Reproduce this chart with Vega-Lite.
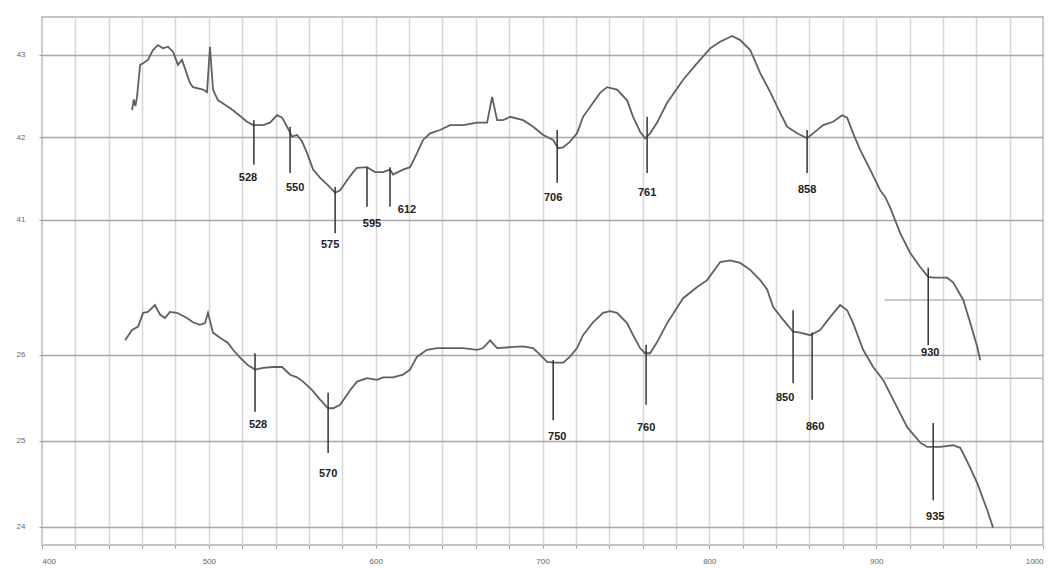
{
  "$schema": "https://vega.github.io/schema/vega-lite/v6.json",
  "width": 1001,
  "height": 528,
  "autosize": {"type": "none"},
  "padding": {"left": 42, "top": 17, "right": 17, "bottom": 23},
  "background": "white",
  "config": {
    "view": {"stroke": "#b0b0b0", "strokeWidth": 1.5},
    "axis": {"labelFont": "Liberation Sans", "labelColor": "#666", "labelFontSize": 8, "tickColor": "#999", "domain": false, "title": null, "labelOverlap": false}
  },
  "datasets": {
    "top": [
      {"nm":454,"v":42.33},{"nm":455,"v":42.46},{"nm":456,"v":42.38},{"nm":457,"v":42.5},{"nm":458.8,"v":42.88},{"nm":460.6,"v":42.9},{"nm":463.5,"v":42.94},{"nm":466.5,"v":43.06},{"nm":469.5,"v":43.12},{"nm":472.5,"v":43.08},{"nm":475.5,"v":43.1},{"nm":478.5,"v":43.04},{"nm":481.5,"v":42.88},{"nm":483.9,"v":42.94},{"nm":488.7,"v":42.66},{"nm":490.5,"v":42.61},{"nm":496.5,"v":42.58},{"nm":498.9,"v":42.55},{"nm":500.7,"v":43.1},{"nm":502.5,"v":42.58},{"nm":505.5,"v":42.45},{"nm":507.9,"v":42.42},{"nm":514.5,"v":42.33},{"nm":522.9,"v":42.19},{"nm":526.5,"v":42.15},{"nm":529.5,"v":42.15},{"nm":532.5,"v":42.15},{"nm":536.7,"v":42.18},{"nm":540.9,"v":42.27},{"nm":543.9,"v":42.24},{"nm":546.9,"v":42.13},{"nm":549.9,"v":42.01},{"nm":552.9,"v":42.03},{"nm":555.9,"v":41.95},{"nm":558.9,"v":41.81},{"nm":562.5,"v":41.61},{"nm":566.7,"v":41.51},{"nm":571.5,"v":41.42},{"nm":575.7,"v":41.33},{"nm":578.7,"v":41.36},{"nm":582.9,"v":41.48},{"nm":586.5,"v":41.58},{"nm":588.8,"v":41.63},{"nm":594.8,"v":41.64},{"nm":599.6,"v":41.58},{"nm":604.4,"v":41.58},{"nm":608.6,"v":41.61},{"nm":610.4,"v":41.55},{"nm":616.4,"v":41.61},{"nm":620.6,"v":41.64},{"nm":624.8,"v":41.81},{"nm":628.4,"v":41.97},{"nm":632.6,"v":42.05},{"nm":638.6,"v":42.09},{"nm":644.6,"v":42.15},{"nm":652.4,"v":42.15},{"nm":660.8,"v":42.18},{"nm":666.8,"v":42.18},{"nm":669.8,"v":42.49},{"nm":672.8,"v":42.21},{"nm":676.4,"v":42.21},{"nm":680.6,"v":42.25},{"nm":688.4,"v":42.21},{"nm":694.4,"v":42.13},{"nm":700.4,"v":42.03},{"nm":706.4,"v":41.97},{"nm":709.4,"v":41.87},{"nm":712.4,"v":41.88},{"nm":716.5,"v":41.95},{"nm":720.7,"v":42.05},{"nm":724.3,"v":42.25},{"nm":728.5,"v":42.37},{"nm":734.5,"v":42.54},{"nm":738.7,"v":42.61},{"nm":744.7,"v":42.58},{"nm":750.7,"v":42.45},{"nm":754.3,"v":42.25},{"nm":758.5,"v":42.07},{"nm":761.5,"v":41.99},{"nm":764.5,"v":42.05},{"nm":768.7,"v":42.18},{"nm":774.7,"v":42.42},{"nm":784.3,"v":42.7},{"nm":792.7,"v":42.9},{"nm":800.5,"v":43.08},{"nm":806.5,"v":43.16},{"nm":813.7,"v":43.23},{"nm":818.5,"v":43.18},{"nm":824.5,"v":43.06},{"nm":830.5,"v":42.78},{"nm":836.5,"v":42.55},{"nm":842.4,"v":42.3},{"nm":846.6,"v":42.13},{"nm":852.6,"v":42.05},{"nm":858.6,"v":41.99},{"nm":862.2,"v":42.05},{"nm":868.2,"v":42.15},{"nm":874.2,"v":42.19},{"nm":879.6,"v":42.27},{"nm":882.6,"v":42.24},{"nm":886.2,"v":42.05},{"nm":890.4,"v":41.85},{"nm":896.4,"v":41.61},{"nm":902.4,"v":41.36},{"nm":905.4,"v":41.28},{"nm":908.4,"v":41.15},{"nm":914.4,"v":40.84},{"nm":920.4,"v":40.6},{"nm":926.4,"v":40.43},{"nm":931.2,"v":40.31},{"nm":934.2,"v":40.3},{"nm":942.6,"v":40.3},{"nm":946.2,"v":40.24},{"nm":952.2,"v":40.03},{"nm":956.4,"v":39.75},{"nm":960.6,"v":39.46},{"nm":962.4,"v":39.3}
    ],
    "bottom": [
      {"nm":449.8,"v":26.17},{"nm":454,"v":26.29},{"nm":457.6,"v":26.33},{"nm":460.6,"v":26.49},{"nm":463.5,"v":26.5},{"nm":467.7,"v":26.58},{"nm":470.7,"v":26.47},{"nm":473.7,"v":26.43},{"nm":476.7,"v":26.5},{"nm":480.9,"v":26.49},{"nm":486.9,"v":26.43},{"nm":490.5,"v":26.38},{"nm":494.7,"v":26.35},{"nm":497.7,"v":26.37},{"nm":499.5,"v":26.49},{"nm":502.5,"v":26.26},{"nm":506.7,"v":26.2},{"nm":511.5,"v":26.14},{"nm":514.5,"v":26.06},{"nm":518.7,"v":25.97},{"nm":523.5,"v":25.88},{"nm":527.7,"v":25.83},{"nm":532.5,"v":25.85},{"nm":538.5,"v":25.86},{"nm":543.9,"v":25.86},{"nm":548.7,"v":25.77},{"nm":552.9,"v":25.74},{"nm":556.5,"v":25.69},{"nm":561.9,"v":25.59},{"nm":566.7,"v":25.48},{"nm":571.5,"v":25.38},{"nm":574.5,"v":25.38},{"nm":578.7,"v":25.42},{"nm":584.7,"v":25.59},{"nm":588.8,"v":25.69},{"nm":594.8,"v":25.73},{"nm":600.8,"v":25.71},{"nm":604.4,"v":25.74},{"nm":610.4,"v":25.74},{"nm":616.4,"v":25.77},{"nm":620.6,"v":25.83},{"nm":624.8,"v":25.98},{"nm":630.8,"v":26.06},{"nm":636.8,"v":26.08},{"nm":644.6,"v":26.08},{"nm":652.4,"v":26.08},{"nm":660.8,"v":26.06},{"nm":664.4,"v":26.08},{"nm":668.6,"v":26.17},{"nm":672.8,"v":26.08},{"nm":680.6,"v":26.09},{"nm":688.4,"v":26.1},{"nm":694.4,"v":26.08},{"nm":698.6,"v":26.0},{"nm":702.8,"v":25.92},{"nm":706.4,"v":25.91},{"nm":712.4,"v":25.91},{"nm":716.5,"v":25.98},{"nm":720.7,"v":26.08},{"nm":724.3,"v":26.23},{"nm":730.3,"v":26.38},{"nm":736.3,"v":26.49},{"nm":740.5,"v":26.51},{"nm":744.7,"v":26.49},{"nm":750.7,"v":26.37},{"nm":754.3,"v":26.23},{"nm":758.5,"v":26.08},{"nm":761.5,"v":26.02},{"nm":764.5,"v":26.02},{"nm":768.7,"v":26.15},{"nm":774.7,"v":26.37},{"nm":784.3,"v":26.66},{"nm":792.7,"v":26.79},{"nm":798.7,"v":26.87},{"nm":806.5,"v":27.08},{"nm":812.5,"v":27.1},{"nm":818.5,"v":27.07},{"nm":824.5,"v":26.99},{"nm":830.5,"v":26.87},{"nm":834.7,"v":26.76},{"nm":838.2,"v":26.56},{"nm":844.2,"v":26.41},{"nm":850.2,"v":26.27},{"nm":854.4,"v":26.26},{"nm":860.4,"v":26.23},{"nm":866.4,"v":26.29},{"nm":872.4,"v":26.44},{"nm":878.4,"v":26.58},{"nm":882.6,"v":26.52},{"nm":886.2,"v":26.37},{"nm":892.2,"v":26.06},{"nm":898.2,"v":25.86},{"nm":904.2,"v":25.71},{"nm":910.2,"v":25.48},{"nm":918.6,"v":25.16},{"nm":926.4,"v":24.98},{"nm":930.6,"v":24.93},{"nm":938.4,"v":24.93},{"nm":946.2,"v":24.95},{"nm":950.4,"v":24.92},{"nm":954.6,"v":24.76},{"nm":960.6,"v":24.51},{"nm":966.5,"v":24.2},{"nm":970.1,"v":23.99}
    ],
    "topMarks": [
      {"nm":527,"y1":42.21,"y2":41.67,"lx":523.5,"ly":41.51,"label":"528"},
      {"nm":548.7,"y1":42.13,"y2":41.57,"lx":551.7,"ly":41.39,"label":"550"},
      {"nm":575.7,"y1":41.4,"y2":40.84,"lx":572.7,"ly":40.7,"label":"575"},
      {"nm":594.8,"y1":41.64,"y2":41.16,"lx":597.8,"ly":40.95,"label":"595"},
      {"nm":608.6,"y1":41.64,"y2":41.16,"lx":618.8,"ly":41.12,"label":"612"},
      {"nm":708.8,"y1":42.09,"y2":41.45,"lx":706.4,"ly":41.27,"label":"706"},
      {"nm":762.7,"y1":42.25,"y2":41.57,"lx":762.7,"ly":41.33,"label":"761"},
      {"nm":858.6,"y1":42.09,"y2":41.57,"lx":858.6,"ly":41.36,"label":"858"},
      {"nm":931.2,"y1":40.42,"y2":39.48,"lx":932.4,"ly":39.39,"label":"930"}
    ],
    "bottomMarks": [
      {"nm":527.7,"y1":26.02,"y2":25.34,"lx":529.5,"ly":25.19,"label":"528"},
      {"nm":571.5,"y1":25.56,"y2":24.86,"lx":571.5,"ly":24.62,"label":"570"},
      {"nm":706.4,"y1":25.94,"y2":25.24,"lx":708.8,"ly":25.05,"label":"750"},
      {"nm":762.1,"y1":26.12,"y2":25.42,"lx":762.1,"ly":25.15,"label":"760"},
      {"nm":850.2,"y1":26.52,"y2":25.67,"lx":845.4,"ly":25.5,"label":"850"},
      {"nm":861.6,"y1":26.26,"y2":25.48,"lx":863.4,"ly":25.16,"label":"860"},
      {"nm":934.2,"y1":25.21,"y2":24.31,"lx":935.4,"ly":24.12,"label":"935"}
    ],
    "box": [
      {"x1":905,"x2":1000,"y":40.03},
      {"x1":905,"x2":1000,"y":39.08}
    ]
  },
  "layer": [
    {
      "layer": [
        {
          "data": {"name": "box"},
          "mark": {"type": "rule", "color": "#b8b8b8", "strokeWidth": 1.5},
          "encoding": {
            "x": {"field": "x1", "type": "quantitative", "scale": {"domain": [400, 1000], "nice": false, "zero": false},
              "axis": {"values": [400,420,440,460,480,500,520,540,560,580,600,620,640,660,680,700,720,740,760,780,800,820,840,860,880,900,920,940,960,980,1000], "grid": true, "gridColor": "#d6d6d6", "gridWidth": 1.5, "labelExpr": "datum.value % 100 === 0 ? datum.label : ''", "labelOverlap": false, "tickSize": 3, "labelPadding": 9, "format": "d"}},
            "x2": {"field": "x2"},
            "y": {"field": "y", "type": "quantitative", "scale": {"domain": [37.06, 43.46], "nice": false, "zero": false},
              "axis": {"orient": "left", "offset": 0, "values": [41, 42, 43], "format": "d", "grid": true, "gridColor": "#a8a8a8", "gridWidth": 1.5, "tickSize": 3, "labelPadding": 14}}
          }
        },
        {
          "data": {"name": "top"},
          "mark": {"type": "line", "color": "#606060", "strokeWidth": 1.8, "interpolate": "linear"},
          "encoding": {
            "x": {"field": "nm", "type": "quantitative", "scale": {"domain": [400, 1000], "nice": false, "zero": false},
              "axis": {"values": [400,420,440,460,480,500,520,540,560,580,600,620,640,660,680,700,720,740,760,780,800,820,840,860,880,900,920,940,960,980,1000], "grid": true, "gridColor": "#d6d6d6", "gridWidth": 1.5, "labelExpr": "datum.value % 100 === 0 ? datum.label : ''", "labelOverlap": false, "tickSize": 3, "labelPadding": 9, "format": "d"}},
            "y": {"field": "v", "type": "quantitative", "scale": {"domain": [37.06, 43.46], "nice": false, "zero": false},
              "axis": {"orient": "left", "offset": 0, "values": [41, 42, 43], "format": "d", "grid": true, "gridColor": "#a8a8a8", "gridWidth": 1.5, "tickSize": 3, "labelPadding": 14}}
          }
        },
        {
          "data": {"name": "topMarks"},
          "mark": {"type": "rule", "color": "#333", "strokeWidth": 1.5},
          "encoding": {
            "x": {"field": "nm", "type": "quantitative", "scale": {"domain": [400, 1000], "nice": false, "zero": false},
              "axis": {"values": [400,420,440,460,480,500,520,540,560,580,600,620,640,660,680,700,720,740,760,780,800,820,840,860,880,900,920,940,960,980,1000], "grid": true, "gridColor": "#d6d6d6", "gridWidth": 1.5, "labelExpr": "datum.value % 100 === 0 ? datum.label : ''", "labelOverlap": false, "tickSize": 3, "labelPadding": 9, "format": "d"}},
            "y": {"field": "y1", "type": "quantitative", "scale": {"domain": [37.06, 43.46], "nice": false, "zero": false},
              "axis": {"orient": "left", "offset": 0, "values": [41, 42, 43], "format": "d", "grid": true, "gridColor": "#a8a8a8", "gridWidth": 1.5, "tickSize": 3, "labelPadding": 14}},
            "y2": {"field": "y2"}
          }
        },
        {
          "data": {"name": "topMarks"},
          "mark": {"type": "text", "font": "Liberation Sans", "fontSize": 11, "fontWeight": "bold", "color": "#222", "baseline": "middle", "align": "center"},
          "encoding": {
            "x": {"field": "lx", "type": "quantitative", "scale": {"domain": [400, 1000], "nice": false, "zero": false},
              "axis": {"values": [400,420,440,460,480,500,520,540,560,580,600,620,640,660,680,700,720,740,760,780,800,820,840,860,880,900,920,940,960,980,1000], "grid": true, "gridColor": "#d6d6d6", "gridWidth": 1.5, "labelExpr": "datum.value % 100 === 0 ? datum.label : ''", "labelOverlap": false, "tickSize": 3, "labelPadding": 9, "format": "d"}},
            "y": {"field": "ly", "type": "quantitative", "scale": {"domain": [37.06, 43.46], "nice": false, "zero": false},
              "axis": {"orient": "left", "offset": 0, "values": [41, 42, 43], "format": "d", "grid": true, "gridColor": "#a8a8a8", "gridWidth": 1.5, "tickSize": 3, "labelPadding": 14}},
            "text": {"field": "label"}
          }
        }
      ]
    },
    {
      "layer": [
        {
          "data": {"name": "bottom"},
          "mark": {"type": "line", "color": "#606060", "strokeWidth": 1.8, "interpolate": "linear"},
          "encoding": {
            "x": {"field": "nm", "type": "quantitative", "scale": {"domain": [400, 1000], "nice": false, "zero": false},
              "axis": {"values": [400,420,440,460,480,500,520,540,560,580,600,620,640,660,680,700,720,740,760,780,800,820,840,860,880,900,920,940,960,980,1000], "grid": true, "gridColor": "#d6d6d6", "gridWidth": 1.5, "labelExpr": "datum.value % 100 === 0 ? datum.label : ''", "labelOverlap": false, "tickSize": 3, "labelPadding": 9, "format": "d"}},
            "y": {"field": "v", "type": "quantitative", "scale": {"domain": [23.79, 29.93], "nice": false, "zero": false},
              "axis": {"orient": "left", "offset": 0, "values": [24, 25, 26], "format": "d", "grid": true, "gridColor": "#a8a8a8", "gridWidth": 1.5, "tickSize": 3, "labelPadding": 14}}
          }
        },
        {
          "data": {"name": "bottomMarks"},
          "mark": {"type": "rule", "color": "#333", "strokeWidth": 1.5},
          "encoding": {
            "x": {"field": "nm", "type": "quantitative", "scale": {"domain": [400, 1000], "nice": false, "zero": false},
              "axis": {"values": [400,420,440,460,480,500,520,540,560,580,600,620,640,660,680,700,720,740,760,780,800,820,840,860,880,900,920,940,960,980,1000], "grid": true, "gridColor": "#d6d6d6", "gridWidth": 1.5, "labelExpr": "datum.value % 100 === 0 ? datum.label : ''", "labelOverlap": false, "tickSize": 3, "labelPadding": 9, "format": "d"}},
            "y": {"field": "y1", "type": "quantitative", "scale": {"domain": [23.79, 29.93], "nice": false, "zero": false},
              "axis": {"orient": "left", "offset": 0, "values": [24, 25, 26], "format": "d", "grid": true, "gridColor": "#a8a8a8", "gridWidth": 1.5, "tickSize": 3, "labelPadding": 14}},
            "y2": {"field": "y2"}
          }
        },
        {
          "data": {"name": "bottomMarks"},
          "mark": {"type": "text", "font": "Liberation Sans", "fontSize": 11, "fontWeight": "bold", "color": "#222", "baseline": "middle", "align": "center"},
          "encoding": {
            "x": {"field": "lx", "type": "quantitative", "scale": {"domain": [400, 1000], "nice": false, "zero": false},
              "axis": {"values": [400,420,440,460,480,500,520,540,560,580,600,620,640,660,680,700,720,740,760,780,800,820,840,860,880,900,920,940,960,980,1000], "grid": true, "gridColor": "#d6d6d6", "gridWidth": 1.5, "labelExpr": "datum.value % 100 === 0 ? datum.label : ''", "labelOverlap": false, "tickSize": 3, "labelPadding": 9, "format": "d"}},
            "y": {"field": "ly", "type": "quantitative", "scale": {"domain": [23.79, 29.93], "nice": false, "zero": false},
              "axis": {"orient": "left", "offset": 0, "values": [24, 25, 26], "format": "d", "grid": true, "gridColor": "#a8a8a8", "gridWidth": 1.5, "tickSize": 3, "labelPadding": 14}},
            "text": {"field": "label"}
          }
        }
      ]
    }
  ],
  "resolve": {"scale": {"y": "independent"}, "axis": {"y": "independent"}}
}
